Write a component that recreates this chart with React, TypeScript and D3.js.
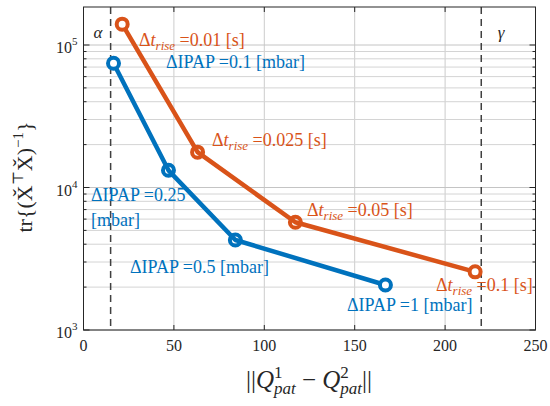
import React from "react";
import * as d3 from "d3";

const blueX = [16.6, 47, 84, 167];
const blueY = [74400, 13200, 4280, 2070];
const orangeX = [21.4, 63.1, 117.2, 216.6];
const orangeY = [140000, 17700, 5700, 2560];
const xTicks = [0, 50, 100, 150, 200, 250];
const yMajor = [1e3, 1e4, 1e5];
const vLines = [15, 220];

const W = 550, H = 406;
const L = 83.5, R = 535.5, T = 7, B = 330;
const BLUE = "#0072BD", ORANGE = "#D95319";
const FONT = "Liberation Serif, Times New Roman, DejaVu Serif, serif";

export default function App() {
  const x = d3.scaleLinear().domain([0, 250]).range([L, R]);
  const yTopVal = Math.pow(10, 5 + (45 - T) / 142.5);
  const y = d3.scaleLog().domain([1e3, yTopVal]).range([B, T]);
  const minor: number[] = [];
  [1e3, 1e4, 1e5].forEach((d) => {
    for (let k = 2; k <= 9; k++) if (d * k <= yTopVal) minor.push(d * k);
  });
  const line = d3.line<[number, number]>().x((d) => x(d[0])).y((d) => y(d[1]));
  const bluePts: [number, number][] = blueX.map((v, i) => [v, blueY[i]]);
  const orangePts: [number, number][] = orangeX.map((v, i) => [v, orangeY[i]]);
  const fs = 18;
  const dt = (val: string, px: number, py: number) => (
    <text x={px} y={py} fill={ORANGE} fontSize={fs}>
      Δ<tspan fontStyle="italic">t</tspan>
      <tspan fontStyle="italic" fontSize={13} dy={3.5}>rise</tspan>
      <tspan dy={-3.5}>{" =" + val + " [s]"}</tspan>
    </text>
  );
  const ip = (val: string, px: number, py: number) => (
    <text x={px} y={py} fill={BLUE} fontSize={fs}>
      {"ΔIPAP =" + val}
    </text>
  );
  const last = 3;
  return (
    <svg width={W} height={H} style={{ position: "absolute", left: 0, top: 0, background: "#fff", fontFamily: FONT }}>
      <rect x={0} y={0} width={W} height={H} fill="#fff" />
      {xTicks.slice(1, -1).map((t) => (
        <line key={"gx" + t} x1={x(t)} x2={x(t)} y1={T} y2={B} stroke="#cccccc" strokeWidth={1} />
      ))}
      {minor.map((t) => (
        <line key={"gm" + t} x1={L} x2={R} y1={y(t)} y2={y(t)} stroke="#d4d4d4" strokeWidth={1} />
      ))}
      {yMajor.map((t) => (
        <line key={"gy" + t} x1={L} x2={R} y1={y(t)} y2={y(t)} stroke="#c4c4c4" strokeWidth={1} />
      ))}
      {vLines.map((v) => (
        <line key={"v" + v} x1={x(v)} x2={x(v)} y1={T} y2={B} stroke="#404040" strokeWidth={1.5} strokeDasharray="7,5" />
      ))}
      {xTicks.map((t) => (
        <g key={"tx" + t}>
          <line x1={x(t)} x2={x(t)} y1={B} y2={B - 5} stroke="#262626" />
          <line x1={x(t)} x2={x(t)} y1={T} y2={T + 5} stroke="#262626" />
          <text x={x(t)} y={B + 21} textAnchor="middle" fontSize={16} fill="#262626">{t}</text>
        </g>
      ))}
      {minor.map((t) => (
        <g key={"tm" + t}>
          <line x1={L} x2={L + 3} y1={y(t)} y2={y(t)} stroke="#262626" />
          <line x1={R} x2={R - 3} y1={y(t)} y2={y(t)} stroke="#262626" />
        </g>
      ))}
      {yMajor.map((t, i) => (
        <g key={"ty" + t}>
          <line x1={L} x2={L + 6} y1={y(t)} y2={y(t)} stroke="#262626" />
          <line x1={R} x2={R - 6} y1={y(t)} y2={y(t)} stroke="#262626" />
          <text x={L - 6} y={y(t) + 8} textAnchor="end" fontSize={16} fill="#262626">
            10<tspan fontSize={11} dy={-8}>{3 + i}</tspan>
          </text>
        </g>
      ))}
      <rect x={L} y={T} width={R - L} height={B - T} fill="none" stroke="#262626" strokeWidth={1} />
      <text x={98} y={38} fontSize={17} fontStyle="italic" fill="#262626" textAnchor="middle">α</text>
      <text x={501} y={38} fontSize={17} fontStyle="italic" fill="#262626" textAnchor="middle">γ</text>
      <path d={line(orangePts) || ""} fill="none" stroke={ORANGE} strokeWidth={4.5} strokeLinejoin="round" />
      <path d={line(bluePts) || ""} fill="none" stroke={BLUE} strokeWidth={4.5} strokeLinejoin="round" />
      {orangePts.map((p, i) => (
        <circle key={"o" + i} cx={x(p[0])} cy={y(p[1])} r={5.5} fill={i === 0 || i === last ? "#fff" : "none"} stroke={ORANGE} strokeWidth={4} />
      ))}
      {bluePts.map((p, i) => (
        <circle key={"b" + i} cx={x(p[0])} cy={y(p[1])} r={5.5} fill={i === 0 || i === last ? "#fff" : "none"} stroke={BLUE} strokeWidth={4} />
      ))}
      {dt("0.01", 139, 46)}
      {ip("0.1 [mbar]", 166, 68)}
      {dt("0.025", 212, 146)}
      {dt("0.05", 307, 216)}
      {dt("0.1", 436, 291)}
      {ip("1 [mbar]", 347, 311)}
      {ip("0.25", 91, 201)}
      <text x={91} y={226} fill={BLUE} fontSize={fs}>[mbar]</text>
      {ip("0.5 [mbar]", 130, 273)}
      <text x={309} y={388} textAnchor="middle" fontSize={25} fill="#262626">
        ||<tspan fontStyle="italic">Q</tspan>
        <tspan fontSize={17} dy={-10}>1</tspan>
        <tspan fontSize={17} fontStyle="italic" dx={-8.5} dy={16}>pat</tspan>
        <tspan dy={-6}>{" − "}</tspan>
        <tspan fontStyle="italic">Q</tspan>
        <tspan fontSize={17} dy={-10}>2</tspan>
        <tspan fontSize={17} fontStyle="italic" dx={-8.5} dy={16}>pat</tspan>
        <tspan dy={-6}>||</tspan>
      </text>
      <text transform="translate(32,177) rotate(-90)" textAnchor="middle" fontSize={22} fill="#262626">
        tr{"{"}(X̌<tspan fontSize={15} dy={-9}>⊤</tspan>
        <tspan dy={9}>X̌)</tspan>
        <tspan fontSize={15} dy={-9}>−1</tspan>
        <tspan dy={9}>{"}"}</tspan>
      </text>
    </svg>
  );
}
